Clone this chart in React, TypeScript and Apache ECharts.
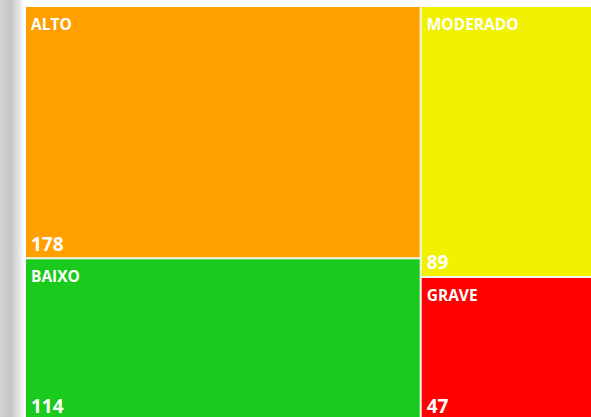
import React, { useEffect, useRef } from "react";
import * as echarts from "echarts";

const categories = ["ALTO", "BAIXO", "MODERADO", "GRAVE"];
const values = [178, 114, 89, 47];
const colors = ["#FF9F00", "#1ACB1E", "#F2F200", "#FF0000"];

export default function App() {
  const ref = useRef<HTMLDivElement>(null);
  useEffect(() => {
    if (!ref.current) return;
    const chart = echarts.init(ref.current, undefined, { renderer: "svg" });
    const data = categories.map((c, i) => ({
      name: c,
      value: values[i],
      itemStyle: { color: colors[i] },
    }));
    const dataValue = categories.map((c, i) => ({
      name: c,
      value: values[i],
      itemStyle: { color: "rgba(0,0,0,0)" },
    }));
    const common = {
      type: "treemap",
      left: 26,
      top: 7,
      width: 578,
      height: 412,
      roam: false,
      nodeClick: false,
      breadcrumb: { show: false },
      squareRatio: 0.5 * (1 + Math.sqrt(5)),
    };
    chart.setOption({
      animation: false,
      backgroundColor: "#ffffff",
      graphic: [
        {
          type: "rect",
          left: 0,
          top: 0,
          shape: { width: 24, height: 417 },
          style: {
            fill: new echarts.graphic.LinearGradient(0, 0, 1, 0, [
              { offset: 0, color: "#d2d2d2" },
              { offset: 0.45, color: "#c6c6c6" },
              { offset: 0.8, color: "#e6e6e6" },
              { offset: 1, color: "#ffffff" },
            ]),
          },
          silent: true,
        },
      ],
      series: [
        {
          ...common,
          data,
          levels: [
            { itemStyle: { borderWidth: 0, gapWidth: 2, borderColor: "#f3f5ec" } },
            { itemStyle: { borderWidth: 0, gapWidth: 0 } },
          ],
          label: {
            show: true,
            position: "insideTopLeft",
            distance: 0,
            padding: [9, 0, 0, 5],
            formatter: "{b}",
            color: "#ffffff",
            fontFamily: "Open Sans",
            fontWeight: "bold",
            fontSize: 15.5,
          },
        },
        {
          ...common,
          silent: true,
          data: dataValue,
          levels: [
            { itemStyle: { borderWidth: 0, gapWidth: 2, borderColor: "rgba(0,0,0,0)", color: "rgba(0,0,0,0)" } },
            { itemStyle: { borderWidth: 0, gapWidth: 0 } },
          ],
          label: {
            show: true,
            position: "insideBottomLeft",
            distance: 0,
            padding: [0, 0, 4, 5],
            formatter: "{c}",
            color: "#ffffff",
            fontFamily: "Open Sans",
            fontWeight: "bold",
            fontSize: 19,
          },
        },
      ],
    } as any);
    return () => chart.dispose();
  }, []);
  return (
    <div
      ref={ref}
      style={{ position: "absolute", left: 0, top: 0, width: 591, height: 417 }}
    />
  );
}
